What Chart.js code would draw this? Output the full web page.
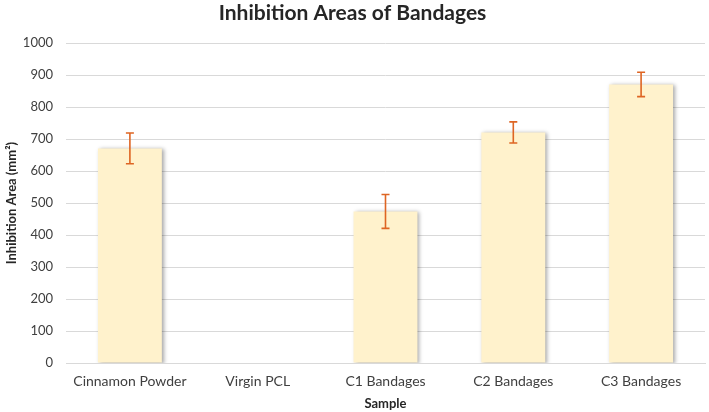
<!DOCTYPE html>
<html>
<head>
<meta charset="utf-8">
<script src="https://cdn.jsdelivr.net/npm/chart.js@4.4.1/dist/chart.umd.min.js"></script>
<style>
html,body{margin:0;padding:0;background:#fff;}
#wrap{width:709px;height:412px;position:relative;}
</style>
</head>
<body>
<div id="wrap"><canvas id="c" width="709" height="412"></canvas></div>
<script>
const categories = ["Cinnamon Powder", "Virgin PCL", "C1 Bandages", "C2 Bandages", "C3 Bandages"];
const areaValues = [671, null, 474, 721, 871];
const areaErrors = [48, null, 53, 33, 38];
const yTicks = [0, 100, 200, 300, 400, 500, 600, 700, 800, 900, 1000];

const FONT = "Lato, 'Open Sans', sans-serif";

const errorBarPlugin = {
  id: 'errorBars',
  afterDatasetsDraw(chart) {
    const ctx = chart.ctx;
    const meta = chart.getDatasetMeta(0);
    const y = chart.scales.y;
    ctx.save();
    ctx.strokeStyle = '#DE6523';
    ctx.lineWidth = 1.6;
    meta.data.forEach((bar, i) => {
      const v = areaValues[i], e = areaErrors[i];
      if (v == null || e == null) return;
      const x = bar.x;
      const yt = y.getPixelForValue(v + e);
      const yb = y.getPixelForValue(v - e);
      const cap = 4;
      ctx.beginPath();
      ctx.moveTo(x, yt); ctx.lineTo(x, yb);
      ctx.moveTo(x - cap, yt); ctx.lineTo(x + cap, yt);
      ctx.moveTo(x - cap, yb); ctx.lineTo(x + cap, yb);
      ctx.stroke();
    });
    ctx.restore();
  }
};

const shadowPlugin = {
  id: 'barShadow',
  beforeDatasetDraw(chart) {
    const ctx = chart.ctx;
    ctx.save();
    ctx.shadowColor = 'rgba(0,0,0,0.35)';
    ctx.shadowBlur = 4;
    ctx.shadowOffsetX = 2;
    ctx.shadowOffsetY = 1;
  },
  afterDatasetDraw(chart) {
    chart.ctx.restore();
  }
};

new Chart(document.getElementById('c'), {
  type: 'bar',
  data: {
    labels: categories,
    datasets: [{
      data: areaValues,
      backgroundColor: '#FFF2CC',
      borderWidth: 0,
      barPercentage: 0.5,
      categoryPercentage: 1.0
    }]
  },
  options: {
    responsive: false,
    animation: false,
    devicePixelRatio: 1,
    layout: { padding: { left: 0, right: 4, top: 0, bottom: 0 } },
    plugins: {
      legend: { display: false },
      tooltip: { enabled: false },
      title: {
        display: true,
        text: 'Inhibition Areas of Bandages',
        color: '#262626',
        font: { family: FONT, size: 21, weight: 'bold' },
        padding: { top: 1, bottom: 17 }
      }
    },
    scales: {
      x: {
        afterFit(scale) { scale.height = 49; },
        grid: { display: false, drawTicks: false },
        border: { display: true, color: '#D9D9D9', width: 1 },
        ticks: { color: '#404040', font: { family: FONT, size: 14 }, padding: 10, maxRotation: 0 },
        title: { display: true, text: 'Sample', color: '#262626', font: { family: FONT, size: 13, weight: 'bold' }, padding: { top: 4, bottom: 0 } }
      },
      y: {
        min: 0, max: 1000,
        afterBuildTicks(scale) { scale.ticks = yTicks.map(v => ({ value: v })); },
        afterFit(scale) { scale.width = 66; },
        grid: { color: '#D9D9D9', lineWidth: 1, drawTicks: false },
        border: { display: false },
        ticks: { color: '#404040', font: { family: FONT, size: 13 }, padding: 13, callback: v => String(v) },
        title: { display: true, text: 'Inhibition Area (mm²)', color: '#262626', font: { family: FONT, size: 13, weight: 'bold' }, padding: { top: 4, bottom: 2 } }
      }
    }
  },
  plugins: [shadowPlugin, errorBarPlugin]
});
</script>
</body>
</html>
